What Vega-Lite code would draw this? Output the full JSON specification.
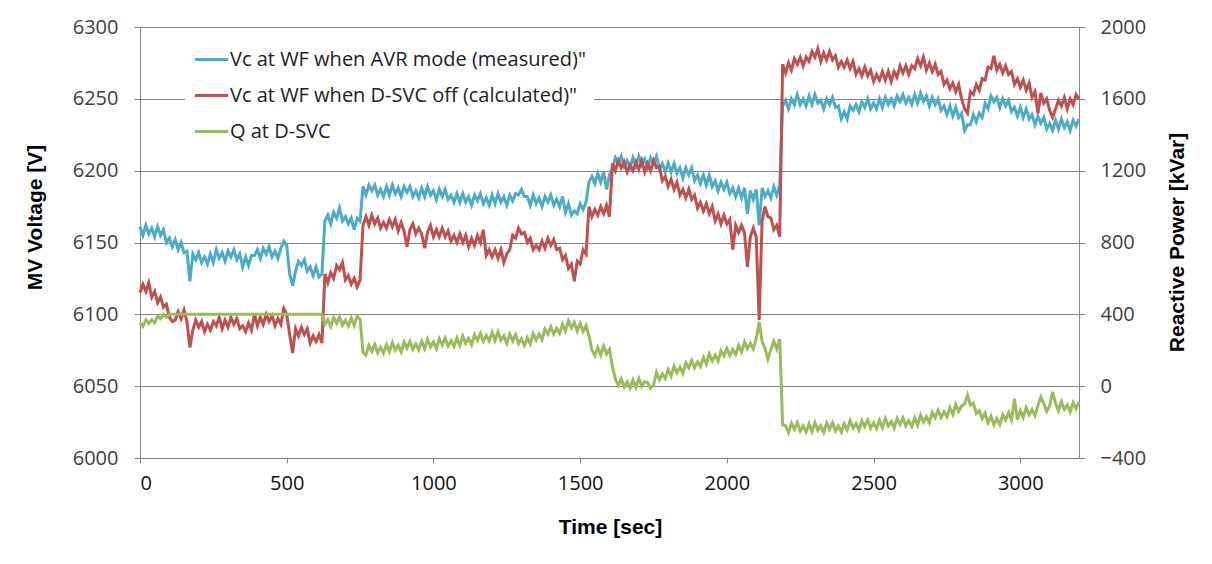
{
  "$schema": "https://vega.github.io/schema/vega-lite/v6.json",
  "width": 939,
  "height": 431,
  "autosize": {"type": "none"},
  "padding": {"left": 140, "top": 27, "right": 133, "bottom": 106},
  "background": "white",
  "config": {"view": {"stroke": null}},
  "data": {"values": [
    {"t":0,"a":6161,"b":6115,"q":352},{"t":10,"a":6155,"b":6121,"q":333},{"t":20,"a":6162,"b":6116,"q":369},{"t":30,"a":6156,"b":6122,"q":349},
    {"t":40,"a":6160,"b":6112,"q":370},{"t":50,"a":6154,"b":6116,"q":353},{"t":60,"a":6161,"b":6108,"q":390},{"t":70,"a":6155,"b":6112,"q":376},
    {"t":80,"a":6159,"b":6105,"q":400},{"t":90,"a":6150,"b":6107,"q":383},{"t":100,"a":6153,"b":6098,"q":400},{"t":110,"a":6147,"b":6095,"q":400},
    {"t":120,"a":6152,"b":6096,"q":400},{"t":130,"a":6145,"b":6102,"q":400},{"t":140,"a":6150,"b":6097,"q":400},{"t":150,"a":6143,"b":6103,"q":400},
    {"t":160,"a":6144,"b":6095,"q":400},{"t":170,"a":6123,"b":6077,"q":400},{"t":180,"a":6142,"b":6089,"q":400},{"t":190,"a":6138,"b":6096,"q":400},
    {"t":200,"a":6143,"b":6091,"q":400},{"t":210,"a":6136,"b":6095,"q":400},{"t":220,"a":6140,"b":6088,"q":400},{"t":230,"a":6135,"b":6093,"q":400},
    {"t":240,"a":6142,"b":6089,"q":400},{"t":250,"a":6136,"b":6095,"q":400},{"t":260,"a":6145,"b":6092,"q":400},{"t":270,"a":6139,"b":6098,"q":400},
    {"t":280,"a":6143,"b":6090,"q":400},{"t":290,"a":6137,"b":6096,"q":400},{"t":300,"a":6144,"b":6091,"q":400},{"t":310,"a":6140,"b":6098,"q":400},
    {"t":320,"a":6145,"b":6093,"q":400},{"t":330,"a":6138,"b":6097,"q":400},{"t":340,"a":6142,"b":6090,"q":400},{"t":350,"a":6133,"b":6092,"q":400},
    {"t":360,"a":6140,"b":6088,"q":400},{"t":370,"a":6134,"b":6094,"q":400},{"t":380,"a":6141,"b":6089,"q":400},{"t":390,"a":6141,"b":6100,"q":400},
    {"t":400,"a":6145,"b":6092,"q":400},{"t":410,"a":6139,"b":6098,"q":400},{"t":420,"a":6146,"b":6093,"q":400},{"t":430,"a":6142,"b":6100,"q":400},
    {"t":440,"a":6147,"b":6095,"q":400},{"t":450,"a":6140,"b":6099,"q":400},{"t":460,"a":6144,"b":6092,"q":400},{"t":470,"a":6139,"b":6097,"q":400},
    {"t":480,"a":6146,"b":6093,"q":400},{"t":490,"a":6151,"b":6104,"q":400},{"t":500,"a":6148,"b":6100,"q":400},{"t":510,"a":6128,"b":6086,"q":400},
    {"t":520,"a":6120,"b":6073,"q":400},{"t":530,"a":6130,"b":6090,"q":400},{"t":540,"a":6137,"b":6085,"q":400},{"t":550,"a":6134,"b":6091,"q":400},
    {"t":560,"a":6138,"b":6086,"q":400},{"t":570,"a":6130,"b":6090,"q":400},{"t":580,"a":6133,"b":6080,"q":400},{"t":590,"a":6127,"b":6085,"q":400},
    {"t":600,"a":6133,"b":6081,"q":400},{"t":610,"a":6126,"b":6086,"q":400},{"t":620,"a":6128,"b":6080,"q":400},{"t":630,"a":6165,"b":6128,"q":345},
    {"t":640,"a":6169,"b":6122,"q":370},{"t":650,"a":6163,"b":6129,"q":332},{"t":660,"a":6171,"b":6125,"q":384},{"t":670,"a":6167,"b":6134,"q":350},
    {"t":680,"a":6174,"b":6131,"q":386},{"t":690,"a":6165,"b":6136,"q":340},{"t":700,"a":6168,"b":6124,"q":368},{"t":710,"a":6163,"b":6127,"q":335},
    {"t":720,"a":6167,"b":6121,"q":380},{"t":730,"a":6159,"b":6125,"q":338},{"t":740,"a":6167,"b":6119,"q":390},{"t":750,"a":6165,"b":6124,"q":372},
    {"t":760,"a":6189,"b":6162,"q":190},{"t":770,"a":6183,"b":6168,"q":173},{"t":780,"a":6190,"b":6162,"q":227},{"t":790,"a":6186,"b":6169,"q":194},
    {"t":800,"a":6190,"b":6163,"q":232},{"t":810,"a":6183,"b":6167,"q":187},{"t":820,"a":6187,"b":6160,"q":217},{"t":830,"a":6182,"b":6164,"q":185},
    {"t":840,"a":6189,"b":6160,"q":232},{"t":850,"a":6183,"b":6166,"q":191},{"t":860,"a":6190,"b":6161,"q":243},{"t":870,"a":6184,"b":6166,"q":201},
    {"t":880,"a":6188,"b":6158,"q":228},{"t":890,"a":6182,"b":6164,"q":191},{"t":900,"a":6189,"b":6158,"q":245},{"t":910,"a":6185,"b":6147,"q":212},
    {"t":920,"a":6189,"b":6159,"q":250},{"t":930,"a":6182,"b":6163,"q":205},{"t":940,"a":6186,"b":6156,"q":235},{"t":950,"a":6181,"b":6160,"q":203},
    {"t":960,"a":6188,"b":6156,"q":250},{"t":970,"a":6182,"b":6146,"q":209},{"t":980,"a":6189,"b":6157,"q":261},{"t":990,"a":6183,"b":6162,"q":219},
    {"t":1000,"a":6186,"b":6154,"q":246},{"t":1010,"a":6180,"b":6159,"q":209},{"t":1020,"a":6187,"b":6154,"q":263},{"t":1030,"a":6182,"b":6160,"q":230},
    {"t":1040,"a":6187,"b":6154,"q":268},{"t":1050,"a":6180,"b":6158,"q":223},{"t":1060,"a":6183,"b":6151,"q":253},{"t":1070,"a":6178,"b":6155,"q":221},
    {"t":1080,"a":6184,"b":6150,"q":268},{"t":1090,"a":6178,"b":6156,"q":227},{"t":1100,"a":6184,"b":6150,"q":278},{"t":1110,"a":6178,"b":6155,"q":238},
    {"t":1120,"a":6182,"b":6147,"q":266},{"t":1130,"a":6176,"b":6153,"q":231},{"t":1140,"a":6183,"b":6148,"q":286},{"t":1150,"a":6179,"b":6155,"q":255},
    {"t":1160,"a":6184,"b":6150,"q":294},{"t":1170,"a":6177,"b":6159,"q":251},{"t":1180,"a":6181,"b":6141,"q":282},{"t":1190,"a":6176,"b":6145,"q":252},
    {"t":1200,"a":6183,"b":6140,"q":300},{"t":1210,"a":6177,"b":6145,"q":255},{"t":1220,"a":6184,"b":6139,"q":303},{"t":1230,"a":6178,"b":6145,"q":257},
    {"t":1240,"a":6182,"b":6136,"q":280},{"t":1250,"a":6176,"b":6142,"q":239},{"t":1260,"a":6183,"b":6145,"q":289},{"t":1270,"a":6179,"b":6155,"q":252},
    {"t":1280,"a":6184,"b":6153,"q":286},{"t":1290,"a":6183,"b":6160,"q":237},{"t":1300,"a":6187,"b":6156,"q":263},{"t":1310,"a":6182,"b":6157,"q":227},
    {"t":1320,"a":6182,"b":6150,"q":270},{"t":1330,"a":6176,"b":6153,"q":235},{"t":1340,"a":6183,"b":6145,"q":293},{"t":1350,"a":6177,"b":6148,"q":257},
    {"t":1360,"a":6181,"b":6145,"q":290},{"t":1370,"a":6175,"b":6151,"q":259},{"t":1380,"a":6182,"b":6146,"q":319},{"t":1390,"a":6178,"b":6153,"q":290},
    {"t":1400,"a":6183,"b":6148,"q":331},{"t":1410,"a":6176,"b":6152,"q":290},{"t":1420,"a":6180,"b":6145,"q":323},{"t":1430,"a":6175,"b":6146,"q":295},
    {"t":1440,"a":6182,"b":6138,"q":345},{"t":1450,"a":6171,"b":6141,"q":308},{"t":1460,"a":6177,"b":6132,"q":363},{"t":1470,"a":6169,"b":6135,"q":325},
    {"t":1480,"a":6172,"b":6123,"q":355},{"t":1490,"a":6170,"b":6137,"q":307},{"t":1500,"a":6177,"b":6135,"q":349},{"t":1510,"a":6173,"b":6145,"q":305},
    {"t":1520,"a":6178,"b":6142,"q":336},{"t":1530,"a":6192,"b":6175,"q":280},{"t":1540,"a":6196,"b":6168,"q":203},{"t":1550,"a":6191,"b":6173,"q":170},
    {"t":1560,"a":6198,"b":6169,"q":215},{"t":1570,"a":6192,"b":6175,"q":173},{"t":1580,"a":6199,"b":6170,"q":223},{"t":1590,"a":6187,"b":6176,"q":180},
    {"t":1600,"a":6197,"b":6168,"q":205},{"t":1610,"a":6202,"b":6205,"q":110},{"t":1620,"a":6209,"b":6200,"q":39},{"t":1630,"a":6205,"b":6207,"q":5},
    {"t":1640,"a":6210,"b":6202,"q":41},{"t":1650,"a":6203,"b":6206,"q":-5},{"t":1660,"a":6207,"b":6199,"q":23},{"t":1670,"a":6202,"b":6204,"q":-10},
    {"t":1680,"a":6209,"b":6200,"q":35},{"t":1690,"a":6203,"b":6206,"q":-7},{"t":1700,"a":6210,"b":6201,"q":43},{"t":1710,"a":6204,"b":6207,"q":0},
    {"t":1720,"a":6208,"b":6199,"q":25},{"t":1730,"a":6202,"b":6205,"q":20},{"t":1740,"a":6209,"b":6200,"q":-12},{"t":1750,"a":6205,"b":6207,"q":5},
    {"t":1760,"a":6210,"b":6202,"q":76},{"t":1770,"a":6201,"b":6203,"q":36},{"t":1780,"a":6205,"b":6193,"q":69},{"t":1790,"a":6199,"b":6196,"q":42},
    {"t":1800,"a":6205,"b":6189,"q":92},{"t":1810,"a":6199,"b":6194,"q":56},{"t":1820,"a":6205,"b":6187,"q":112},{"t":1830,"a":6198,"b":6192,"q":74},
    {"t":1840,"a":6202,"b":6183,"q":105},{"t":1850,"a":6195,"b":6187,"q":72},{"t":1860,"a":6202,"b":6181,"q":130},{"t":1870,"a":6197,"b":6187,"q":102},
    {"t":1880,"a":6202,"b":6180,"q":143},{"t":1890,"a":6193,"b":6183,"q":103},{"t":1900,"a":6197,"b":6174,"q":136},{"t":1910,"a":6191,"b":6178,"q":109},
    {"t":1920,"a":6197,"b":6172,"q":160},{"t":1930,"a":6190,"b":6177,"q":123},{"t":1940,"a":6197,"b":6170,"q":179},{"t":1950,"a":6189,"b":6175,"q":141},
    {"t":1960,"a":6193,"b":6165,"q":172},{"t":1970,"a":6186,"b":6170,"q":140},{"t":1980,"a":6192,"b":6163,"q":197},{"t":1990,"a":6187,"b":6169,"q":169},
    {"t":2000,"a":6192,"b":6163,"q":210},{"t":2010,"a":6184,"b":6166,"q":170},{"t":2020,"a":6188,"b":6145,"q":204},{"t":2030,"a":6182,"b":6162,"q":176},
    {"t":2040,"a":6188,"b":6157,"q":227},{"t":2050,"a":6181,"b":6162,"q":190},{"t":2060,"a":6188,"b":6157,"q":246},{"t":2070,"a":6170,"b":6133,"q":209},
    {"t":2080,"a":6186,"b":6154,"q":239},{"t":2090,"a":6180,"b":6160,"q":207},{"t":2100,"a":6187,"b":6154,"q":264},{"t":2110,"a":6162,"b":6096,"q":358},
    {"t":2120,"a":6188,"b":6165,"q":250},{"t":2130,"a":6182,"b":6175,"q":210},{"t":2140,"a":6186,"b":6168,"q":150},{"t":2150,"a":6181,"b":6167,"q":205},
    {"t":2160,"a":6189,"b":6159,"q":250},{"t":2170,"a":6183,"b":6162,"q":208},{"t":2180,"a":6190,"b":6154,"q":263},{"t":2190,"a":6245,"b":6274,"q":-215},
    {"t":2200,"a":6249,"b":6268,"q":-220},{"t":2210,"a":6243,"b":6275,"q":-258},{"t":2220,"a":6250,"b":6270,"q":-206},{"t":2230,"a":6246,"b":6278,"q":-240},
    {"t":2240,"a":6253,"b":6274,"q":-204},{"t":2250,"a":6246,"b":6279,"q":-250},{"t":2260,"a":6250,"b":6273,"q":-222},{"t":2270,"a":6245,"b":6279,"q":-255},
    {"t":2280,"a":6252,"b":6276,"q":-210},{"t":2290,"a":6246,"b":6283,"q":-252},{"t":2300,"a":6253,"b":6279,"q":-202},{"t":2310,"a":6247,"b":6285,"q":-245},
    {"t":2320,"a":6249,"b":6276,"q":-220},{"t":2330,"a":6243,"b":6282,"q":-258},{"t":2340,"a":6250,"b":6277,"q":-206},{"t":2350,"a":6246,"b":6283,"q":-240},
    {"t":2360,"a":6251,"b":6277,"q":-204},{"t":2370,"a":6244,"b":6280,"q":-250},{"t":2380,"a":6245,"b":6272,"q":-222},{"t":2390,"a":6236,"b":6276,"q":-255},
    {"t":2400,"a":6241,"b":6272,"q":-210},{"t":2410,"a":6236,"b":6277,"q":-243},{"t":2420,"a":6245,"b":6271,"q":-192},{"t":2430,"a":6242,"b":6276,"q":-234},
    {"t":2440,"a":6246,"b":6267,"q":-208},{"t":2450,"a":6241,"b":6271,"q":-245},{"t":2460,"a":6248,"b":6266,"q":-192},{"t":2470,"a":6244,"b":6272,"q":-225},
    {"t":2480,"a":6250,"b":6266,"q":-188},{"t":2490,"a":6243,"b":6270,"q":-233},{"t":2500,"a":6247,"b":6262,"q":-204},{"t":2510,"a":6243,"b":6267,"q":-236},
    {"t":2520,"a":6250,"b":6263,"q":-190},{"t":2530,"a":6244,"b":6269,"q":-231},{"t":2540,"a":6251,"b":6263,"q":-180},{"t":2550,"a":6246,"b":6269,"q":-222},
    {"t":2560,"a":6250,"b":6262,"q":-196},{"t":2570,"a":6245,"b":6269,"q":-233},{"t":2580,"a":6252,"b":6265,"q":-180},{"t":2590,"a":6248,"b":6273,"q":-213},
    {"t":2600,"a":6253,"b":6268,"q":-176},{"t":2610,"a":6247,"b":6273,"q":-221},{"t":2620,"a":6251,"b":6267,"q":-192},{"t":2630,"a":6246,"b":6273,"q":-224},
    {"t":2640,"a":6253,"b":6271,"q":-177},{"t":2650,"a":6247,"b":6278,"q":-217},{"t":2660,"a":6254,"b":6273,"q":-162},{"t":2670,"a":6248,"b":6279,"q":-200},
    {"t":2680,"a":6252,"b":6270,"q":-170},{"t":2690,"a":6245,"b":6275,"q":-203},{"t":2700,"a":6251,"b":6269,"q":-146},{"t":2710,"a":6246,"b":6274,"q":-175},
    {"t":2720,"a":6250,"b":6267,"q":-134},{"t":2730,"a":6242,"b":6269,"q":-175},{"t":2740,"a":6245,"b":6260,"q":-142},{"t":2750,"a":6239,"b":6263,"q":-170},
    {"t":2760,"a":6245,"b":6257,"q":-120},{"t":2770,"a":6238,"b":6261,"q":-157},{"t":2780,"a":6244,"b":6255,"q":-102},{"t":2790,"a":6237,"b":6260,"q":-140},
    {"t":2800,"a":6240,"b":6250,"q":-110},{"t":2810,"a":6228,"b":6243,"q":-100},{"t":2820,"a":6232,"b":6240,"q":-50},{"t":2830,"a":6232,"b":6255,"q":-105},
    {"t":2840,"a":6239,"b":6253,"q":-94},{"t":2850,"a":6234,"b":6260,"q":-152},{"t":2860,"a":6240,"b":6256,"q":-137},{"t":2870,"a":6237,"b":6264,"q":-182},
    {"t":2880,"a":6247,"b":6263,"q":-150},{"t":2890,"a":6243,"b":6272,"q":-204},{"t":2900,"a":6252,"b":6271,"q":-167},{"t":2910,"a":6248,"b":6280,"q":-215},
    {"t":2920,"a":6251,"b":6270,"q":-180},{"t":2930,"a":6244,"b":6274,"q":-214},{"t":2940,"a":6250,"b":6268,"q":-158},{"t":2950,"a":6245,"b":6273,"q":-187},
    {"t":2960,"a":6249,"b":6267,"q":-147},{"t":2970,"a":6241,"b":6269,"q":-189},{"t":2980,"a":6244,"b":6260,"q":-70},{"t":2990,"a":6238,"b":6264,"q":-186},
    {"t":3000,"a":6244,"b":6258,"q":-136},{"t":3010,"a":6237,"b":6263,"q":-174},{"t":3020,"a":6243,"b":6256,"q":-120},{"t":3030,"a":6236,"b":6261,"q":-159},
    {"t":3040,"a":6239,"b":6251,"q":-130},{"t":3050,"a":6232,"b":6255,"q":-164},{"t":3060,"a":6238,"b":6240,"q":-108},{"t":3070,"a":6233,"b":6254,"q":-60},
    {"t":3080,"a":6237,"b":6247,"q":-98},{"t":3090,"a":6229,"b":6250,"q":-140},{"t":3100,"a":6233,"b":6242,"q":-108},{"t":3110,"a":6228,"b":6237,"q":-32},
    {"t":3120,"a":6235,"b":6243,"q":-95},{"t":3130,"a":6229,"b":6249,"q":-137},{"t":3140,"a":6236,"b":6245,"q":-87},{"t":3150,"a":6230,"b":6251,"q":-130},
    {"t":3160,"a":6234,"b":6243,"q":-105},{"t":3170,"a":6228,"b":6250,"q":-143},{"t":3180,"a":6235,"b":6246,"q":-91},{"t":3190,"a":6231,"b":6253,"q":-125},
    {"t":3200,"a":6236,"b":6250,"q":-89}
  ]},
  "transform": [{"fold": ["a", "b", "q"], "as": ["series", "v"]}],
  "encoding": {
    "x": {
      "field": "t", "type": "quantitative",
      "scale": {"domain": [0, 3200], "nice": false},
      "axis": {
        "title": "Time [sec]", "values": [0, 500, 1000, 1500, 2000, 2500, 3000], "format": "d",
        "grid": false, "domainColor": "#868686", "tickColor": "#868686", "tickSize": 5,
        "labelFont": "Open Sans", "labelFontSize": 20, "labelColor": "#111111", "labelPadding": 10,
        "titleFont": "Liberation Sans", "titleFontSize": 21, "titleFontWeight": "bold", "titleColor": "#000000",
        "titleX": 470, "titleY": 69, "titleBaseline": "middle", "titleAlign": "center"
      }
    },
    "color": {
      "field": "series", "type": "nominal",
      "scale": {"domain": ["a", "b", "q"], "range": ["#4BACC6", "#C0504D", "#9BBB59"]},
      "legend": {
        "title": null, "orient": "none", "legendX": 45, "legendY": 6,
        "fillColor": "white", "padding": 8,
        "symbolType": "stroke", "symbolStrokeWidth": 3, "symbolSize": 1100,
        "labelFont": "Open Sans", "labelFontSize": 20, "labelColor": "#222222",
        "labelOffset": 0, "rowPadding": 7, "labelLimit": 600,
        "labelExpr": "datum.label === 'a' ? 'Vc at WF when AVR mode (measured)\"' : datum.label === 'b' ? 'Vc at WF when D-SVC off (calculated)\"' : 'Q at D-SVC'"
      }
    }
  },
  "layer": [
    {
      "transform": [{"filter": "datum.series !== 'q'"}],
      "mark": {"type": "line", "strokeWidth": 3},
      "encoding": {
        "y": {
          "field": "v", "type": "quantitative",
          "scale": {"domain": [6000, 6300], "nice": false, "zero": false},
          "axis": {
            "title": "MV  Voltage [V]", "values": [6000, 6050, 6100, 6150, 6200, 6250, 6300], "format": "d",
            "grid": true, "gridColor": "#868686", "domainColor": "#868686", "tickColor": "#868686", "tickSize": 6,
            "labelFont": "Open Sans", "labelFontSize": 20, "labelColor": "#404040", "labelPadding": 16,
            "titleFont": "Liberation Sans", "titleFontSize": 21, "titleFontWeight": "bold", "titleColor": "#000000",
            "titleAngle": -90, "titleX": -105, "titleY": 190, "titleBaseline": "middle", "titleAlign": "center"
          }
        }
      }
    },
    {
      "transform": [{"filter": "datum.series === 'q'"}],
      "mark": {"type": "line", "strokeWidth": 3},
      "encoding": {
        "y": {
          "field": "v", "type": "quantitative",
          "scale": {"domain": [-400, 2000], "nice": false, "zero": false},
          "axis": {
            "orient": "right", "title": "Reactive Power [kVar]",
            "values": [-400, 0, 400, 800, 1200, 1600, 2000], "format": "d",
            "grid": false, "domainColor": "#868686", "tickColor": "#868686", "tickSize": 6,
            "labelFont": "Open Sans", "labelFontSize": 20, "labelColor": "#404040", "labelPadding": 15,
            "titleFont": "Liberation Sans", "titleFontSize": 21, "titleFontWeight": "bold", "titleColor": "#000000",
            "titleAngle": -90, "titleX": 98, "titleY": 215, "titleBaseline": "middle", "titleAlign": "center"
          }
        }
      }
    }
  ],
  "resolve": {"scale": {"y": "independent"}}
}
